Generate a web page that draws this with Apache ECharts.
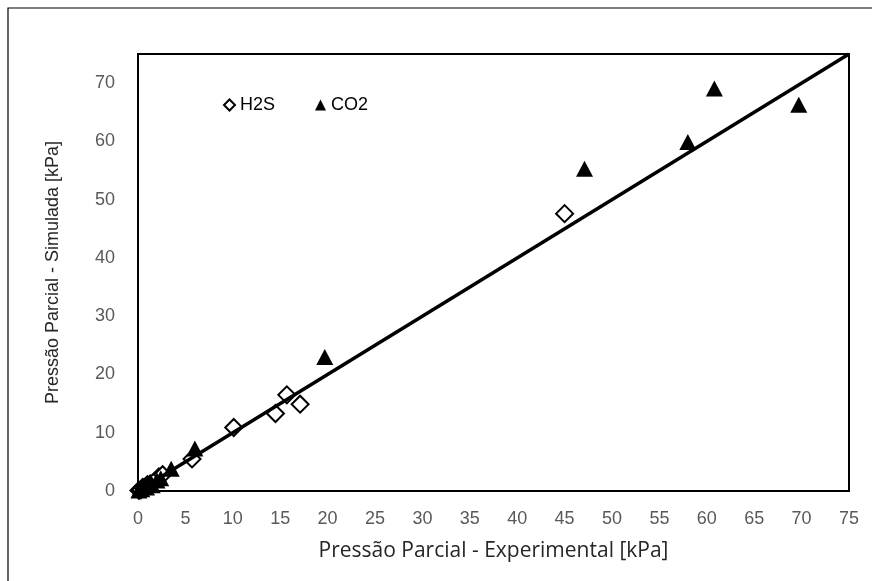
<!DOCTYPE html>
<html><head><meta charset="utf-8">
<script src="https://cdn.jsdelivr.net/npm/echarts@6/dist/echarts.min.js"></script>
<style>html,body{margin:0;padding:0;background:#fff}#c{width:872px;height:581px}</style>
</head><body><div id="c"></div>
<script>
const h2sData = [[0.1,0.1],[0.3,0.2],[0.5,0.6],[0.8,0.7],[1.0,1.1],[1.3,1.2],[1.8,1.7],[2.2,2.4],[2.6,2.8],[5.7,5.5],[10.1,10.9],[14.5,13.3],[15.7,16.5],[17.1,14.9],[45.0,47.6]];
const co2Data = [[0.1,0.1],[0.2,0.4],[0.4,0.3],[0.6,0.8],[0.9,0.6],[1.2,1.4],[1.5,1.0],[2.0,1.8],[2.4,2.2],[3.5,3.8],[6.0,7.3],[19.7,23.0],[47.1,55.3],[58.0,59.9],[60.8,69.1],[69.7,66.3]];
const idealLine = [[0,0],[75,75]];
const xName = 'Pressão Parcial - Experimental [kPa]';
const yName = 'Pressão Parcial - Simulada [kPa]';
const font = '"Liberation Sans", Arial, sans-serif';
const chart = echarts.init(document.getElementById('c'));
chart.setOption({
  animation:false,
  backgroundColor:'#fff',
  graphic:[{type:'rect',shape:{x:8,y:8,width:870,height:590},style:{fill:'none',stroke:'#000',lineWidth:1.2},z:-10}],
  grid:{left:138,right:23,top:54,bottom:90,show:true,borderColor:'#000',borderWidth:2,backgroundColor:'transparent'},
  legend:{left:218,top:91,itemWidth:11,itemHeight:11,itemGap:40,
    textStyle:{fontFamily:font,fontSize:18,color:'#000'},
    data:[{name:'H2S',icon:'diamond'},{name:'CO2',icon:'triangle'}]},
  xAxis:{type:'value',min:0,max:75,interval:5,name:xName,nameLocation:'middle',nameGap:50,
    nameTextStyle:{fontFamily:'"Open Sans", sans-serif',fontSize:21,color:'#262626'},
    axisLine:{show:true,lineStyle:{color:'#000',width:2}},axisTick:{show:false},splitLine:{show:false},
    axisLabel:{fontFamily:font,fontSize:18,color:'#595959',margin:19}},
  yAxis:{type:'value',min:0,max:75,interval:10,name:yName,nameLocation:'middle',nameGap:76,
    nameTextStyle:{fontFamily:font,fontSize:18,color:'#262626'},
    axisLine:{show:true,lineStyle:{color:'#000',width:2}},axisTick:{show:false},splitLine:{show:false},
    axisLabel:{fontFamily:font,fontSize:18,color:'#595959',margin:23,formatter:v=>v===75?'':v}},
  series:[
    {name:'H2S',type:'scatter',data:h2sData,symbol:'diamond',symbolSize:[17,17],
      itemStyle:{color:'#fff',borderColor:'#000',borderWidth:2,opacity:1},z:3},
    {name:'CO2',type:'scatter',data:co2Data,symbol:'triangle',symbolSize:[17,16],
      itemStyle:{color:'#000',borderColor:'#000',borderWidth:0,opacity:1},z:3},
    {name:'line',type:'line',data:idealLine,symbol:'none',lineStyle:{color:'#000',width:3.5},z:4,silent:true}
  ]
});
</script></body></html>
